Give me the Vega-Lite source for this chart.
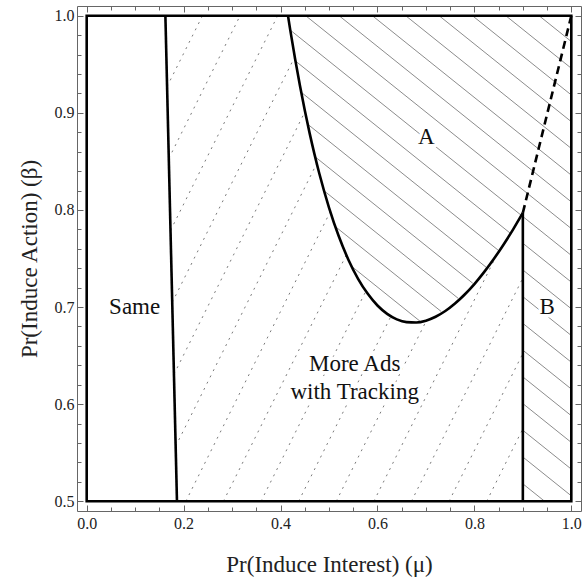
{
  "$schema": "https://vega.github.io/schema/vega-lite/v6.json",
  "width": 504,
  "height": 505,
  "padding": {"left": 77, "top": 6, "right": 2, "bottom": 67},
  "autosize": {"type": "none"},
  "config": {
    "view": {"stroke": null},
    "font": "'Liberation Serif', 'DejaVu Serif', serif",
    "axis": {
      "domainColor": "#666666",
      "tickColor": "#666666",
      "labelColor": "#222222",
      "titleColor": "#222222",
      "labelFont": "'Liberation Serif', 'DejaVu Serif', serif",
      "titleFont": "'Liberation Serif', 'DejaVu Serif', serif",
      "labelFontSize": 16,
      "titleFontSize": 23,
      "titleFontWeight": "normal",
      "grid": false,
      "domainWidth": 1,
      "tickWidth": 1,
      "labelFlush": false,
      "labelOverlap": false
    }
  },
  "datasets": {
    "hatch": [
      {"x": 0.9335, "y": 1.0, "x2": 1.0, "y2": 0.9734},
      {"x": 0.8648, "y": 1.0, "x2": 1.0, "y2": 0.9459},
      {"x": 0.796, "y": 1.0, "x2": 1.0, "y2": 0.9184},
      {"x": 0.7272, "y": 1.0, "x2": 1.0, "y2": 0.8909},
      {"x": 0.6583, "y": 1.0, "x2": 1.0, "y2": 0.8633},
      {"x": 0.5895, "y": 1.0, "x2": 1.0, "y2": 0.8358},
      {"x": 0.5208, "y": 1.0, "x2": 1.0, "y2": 0.8083},
      {"x": 0.4519, "y": 1.0, "x2": 1.0, "y2": 0.7808},
      {"x": 0.4198, "y": 0.9853, "x2": 0.8972, "y2": 0.7943},
      {"x": 0.9, "y": 0.7932, "x2": 1.0, "y2": 0.7532},
      {"x": 0.4292, "y": 0.954, "x2": 0.8752, "y2": 0.7756},
      {"x": 0.9, "y": 0.7657, "x2": 1.0, "y2": 0.7257},
      {"x": 0.4433, "y": 0.9209, "x2": 0.8505, "y2": 0.758},
      {"x": 0.9, "y": 0.7382, "x2": 1.0, "y2": 0.6982},
      {"x": 0.456, "y": 0.8883, "x2": 0.8243, "y2": 0.741},
      {"x": 0.9, "y": 0.7107, "x2": 1.0, "y2": 0.6707},
      {"x": 0.4716, "y": 0.8546, "x2": 0.7967, "y2": 0.7245},
      {"x": 0.9, "y": 0.6832, "x2": 1.0, "y2": 0.6432},
      {"x": 0.4918, "y": 0.8189, "x2": 0.7666, "y2": 0.709},
      {"x": 0.9, "y": 0.6556, "x2": 1.0, "y2": 0.6156},
      {"x": 0.5137, "y": 0.7826, "x2": 0.7314, "y2": 0.6955},
      {"x": 0.9, "y": 0.6281, "x2": 1.0, "y2": 0.5881},
      {"x": 0.5447, "y": 0.7427, "x2": 0.6874, "y2": 0.6856},
      {"x": 0.9, "y": 0.6006, "x2": 1.0, "y2": 0.5606},
      {"x": 0.9, "y": 0.5731, "x2": 1.0, "y2": 0.5331},
      {"x": 0.9, "y": 0.5456, "x2": 1.0, "y2": 0.5056},
      {"x": 0.9, "y": 0.518, "x2": 0.945, "y2": 0.5}
    ],
    "dots": [
      {"x": 0.1659, "y": 0.927, "x2": 0.2389, "y2": 1.0},
      {"x": 0.1694, "y": 0.8529, "x2": 0.3165, "y2": 1.0},
      {"x": 0.173, "y": 0.7789, "x2": 0.3941, "y2": 1.0},
      {"x": 0.1765, "y": 0.7048, "x2": 0.4284, "y2": 0.9567},
      {"x": 0.18, "y": 0.6307, "x2": 0.4504, "y2": 0.9011},
      {"x": 0.1836, "y": 0.5567, "x2": 0.4748, "y2": 0.8479},
      {"x": 0.2045, "y": 0.5, "x2": 0.5038, "y2": 0.7993},
      {"x": 0.2821, "y": 0.5, "x2": 0.5351, "y2": 0.753},
      {"x": 0.3597, "y": 0.5, "x2": 0.5755, "y2": 0.7158},
      {"x": 0.4373, "y": 0.5, "x2": 0.6282, "y2": 0.6909},
      {"x": 0.5149, "y": 0.5, "x2": 0.7024, "y2": 0.6875},
      {"x": 0.5925, "y": 0.5, "x2": 0.8505, "y2": 0.758},
      {"x": 0.6701, "y": 0.5, "x2": 0.9, "y2": 0.7299},
      {"x": 0.7477, "y": 0.5, "x2": 0.9, "y2": 0.6523},
      {"x": 0.8253, "y": 0.5, "x2": 0.9, "y2": 0.5747}
    ],
    "thick": [
      {"x": 0.1624, "y": 1.0, "x2": 0.1863, "y2": 0.5},
      {"x": 0.9, "y": 0.5, "x2": 0.9, "y2": 0.797}
    ],
    "border": [{"x": 0, "x2": 1, "y": 0.5, "y2": 1}],
    "curve": [
      {"x": 0.4154, "y": 1.0},
      {"x": 0.42, "y": 0.9854},
      {"x": 0.43, "y": 0.9557},
      {"x": 0.44, "y": 0.9281},
      {"x": 0.45, "y": 0.9026},
      {"x": 0.46, "y": 0.8791},
      {"x": 0.47, "y": 0.8575},
      {"x": 0.48, "y": 0.8375},
      {"x": 0.5, "y": 0.8025},
      {"x": 0.52, "y": 0.7731},
      {"x": 0.54, "y": 0.7488},
      {"x": 0.56, "y": 0.7291},
      {"x": 0.58, "y": 0.7136},
      {"x": 0.6, "y": 0.7016},
      {"x": 0.62, "y": 0.693},
      {"x": 0.64, "y": 0.6873},
      {"x": 0.66, "y": 0.6845},
      {"x": 0.68, "y": 0.6841},
      {"x": 0.7, "y": 0.686},
      {"x": 0.72, "y": 0.69},
      {"x": 0.74, "y": 0.6959},
      {"x": 0.76, "y": 0.7036},
      {"x": 0.78, "y": 0.7129},
      {"x": 0.8, "y": 0.7237},
      {"x": 0.82, "y": 0.736},
      {"x": 0.84, "y": 0.7495},
      {"x": 0.86, "y": 0.7642},
      {"x": 0.88, "y": 0.78},
      {"x": 0.9, "y": 0.797}
    ],
    "dash": [{"x": 0.9, "y": 0.797, "x2": 1.0, "y2": 1.0}],
    "labels": [
      {"text": "Same", "x": 0.099, "y": 0.693},
      {"text": "A", "x": 0.701, "y": 0.868},
      {"text": "B", "x": 0.95, "y": 0.693},
      {"text": "More Ads", "x": 0.553, "y": 0.634},
      {"text": "with Tracking", "x": 0.553, "y": 0.605}
    ]
  },
  "layer": [
    {
      "data": {"name": "hatch"},
      "mark": {"type": "rule", "color": "#8c8c8c", "strokeWidth": 1},
      "encoding": {
        "x": {"field": "x", "type": "quantitative",
          "scale": {"domain": [-0.02, 1.02], "nice": false, "zero": false},
          "axis": {"orient": "bottom", "values": [0, 0.2, 0.4, 0.6, 0.8, 1.0], "format": ".1f", "tickSize": -6, "labelPadding": 10, "title": "Pr(Induce Interest) (μ)", "titlePadding": 22}},
        "x2": {"field": "x2"},
        "y": {"field": "y", "type": "quantitative",
          "scale": {"domain": [0.49, 1.01], "nice": false, "zero": false},
          "axis": {"orient": "left", "values": [0.5, 0.6, 0.7, 0.8, 0.9, 1.0], "format": ".1f", "tickSize": -6, "labelPadding": 9, "title": "Pr(Induce Action) (β)", "titlePadding": 13}},
        "y2": {"field": "y2"}
      }
    },
    {
      "data": {"name": "dots"},
      "mark": {"type": "rule", "color": "#7a7a7a", "strokeWidth": 1, "strokeDash": [2, 5]},
      "encoding": {
        "x": {"field": "x", "type": "quantitative",
          "scale": {"domain": [-0.02, 1.02], "nice": false, "zero": false},
          "axis": {"orient": "bottom", "values": [0.05, 0.1, 0.15, 0.25, 0.3, 0.35, 0.45, 0.5, 0.55, 0.65, 0.7, 0.75, 0.85, 0.9, 0.95], "tickSize": -4, "labels": false, "domain": false, "title": null}},
        "x2": {"field": "x2"},
        "y": {"field": "y", "type": "quantitative",
          "scale": {"domain": [0.49, 1.01], "nice": false, "zero": false},
          "axis": {"orient": "left", "values": [0.52, 0.54, 0.56, 0.58, 0.62, 0.64, 0.66, 0.68, 0.72, 0.74, 0.76, 0.78, 0.82, 0.84, 0.86, 0.88, 0.92, 0.94, 0.96, 0.98], "tickSize": -4, "labels": false, "domain": false, "title": null}},
        "y2": {"field": "y2"}
      }
    },
    {
      "data": {"name": "thick"},
      "mark": {"type": "rule", "color": "black", "strokeWidth": 2.6},
      "encoding": {
        "x": {"field": "x", "type": "quantitative",
          "scale": {"domain": [-0.02, 1.02], "nice": false, "zero": false},
          "axis": {"orient": "top", "values": [0, 0.2, 0.4, 0.6, 0.8, 1.0], "tickSize": -6, "labels": false, "title": null}},
        "x2": {"field": "x2"},
        "y": {"field": "y", "type": "quantitative",
          "scale": {"domain": [0.49, 1.01], "nice": false, "zero": false},
          "axis": {"orient": "right", "values": [0.5, 0.6, 0.7, 0.8, 0.9, 1.0], "tickSize": -6, "labels": false, "title": null}},
        "y2": {"field": "y2"}
      }
    },
    {
      "data": {"name": "curve"},
      "mark": {"type": "line", "color": "black", "strokeWidth": 2.6, "interpolate": "monotone"},
      "encoding": {
        "x": {"field": "x", "type": "quantitative",
          "scale": {"domain": [-0.02, 1.02], "nice": false, "zero": false},
          "axis": {"orient": "top", "values": [0.05, 0.1, 0.15, 0.25, 0.3, 0.35, 0.45, 0.5, 0.55, 0.65, 0.7, 0.75, 0.85, 0.9, 0.95], "tickSize": -4, "labels": false, "domain": false, "title": null}},
        "y": {"field": "y", "type": "quantitative",
          "scale": {"domain": [0.49, 1.01], "nice": false, "zero": false},
          "axis": {"orient": "right", "values": [0.52, 0.54, 0.56, 0.58, 0.62, 0.64, 0.66, 0.68, 0.72, 0.74, 0.76, 0.78, 0.82, 0.84, 0.86, 0.88, 0.92, 0.94, 0.96, 0.98], "tickSize": -4, "labels": false, "domain": false, "title": null}},
        "order": {"field": "x", "type": "quantitative"}
      }
    },
    {
      "data": {"name": "border"},
      "mark": {"type": "rect", "filled": false, "color": "black", "strokeWidth": 2.6},
      "encoding": {
        "x": {"field": "x", "type": "quantitative", "scale": {"domain": [-0.02, 1.02], "nice": false, "zero": false}, "axis": null},
        "x2": {"field": "x2"},
        "y": {"field": "y", "type": "quantitative", "scale": {"domain": [0.49, 1.01], "nice": false, "zero": false}, "axis": null},
        "y2": {"field": "y2"}
      }
    },
    {
      "data": {"name": "dash"},
      "mark": {"type": "rule", "color": "black", "strokeWidth": 2.6, "strokeDash": [8, 5]},
      "encoding": {
        "x": {"field": "x", "type": "quantitative", "scale": {"domain": [-0.02, 1.02], "nice": false, "zero": false}, "axis": null},
        "x2": {"field": "x2"},
        "y": {"field": "y", "type": "quantitative", "scale": {"domain": [0.49, 1.01], "nice": false, "zero": false}, "axis": null},
        "y2": {"field": "y2"}
      }
    },
    {
      "data": {"name": "labels"},
      "mark": {"type": "text", "font": "'Liberation Serif', 'DejaVu Serif', serif", "fontSize": 23, "align": "center", "baseline": "alphabetic", "color": "white", "stroke": "white", "strokeWidth": 7, "strokeJoin": "round"},
      "encoding": {
        "x": {"field": "x", "type": "quantitative", "scale": {"domain": [-0.02, 1.02], "nice": false, "zero": false}, "axis": null},
        "y": {"field": "y", "type": "quantitative", "scale": {"domain": [0.49, 1.01], "nice": false, "zero": false}, "axis": null},
        "text": {"field": "text"}
      }
    },
    {
      "data": {"name": "labels"},
      "mark": {"type": "text", "font": "'Liberation Serif', 'DejaVu Serif', serif", "fontSize": 23, "align": "center", "baseline": "alphabetic", "color": "#111111"},
      "encoding": {
        "x": {"field": "x", "type": "quantitative", "scale": {"domain": [-0.02, 1.02], "nice": false, "zero": false}, "axis": null},
        "y": {"field": "y", "type": "quantitative", "scale": {"domain": [0.49, 1.01], "nice": false, "zero": false}, "axis": null},
        "text": {"field": "text"}
      }
    }
  ],
  "resolve": {"axis": {"x": "independent", "y": "independent"}}
}
